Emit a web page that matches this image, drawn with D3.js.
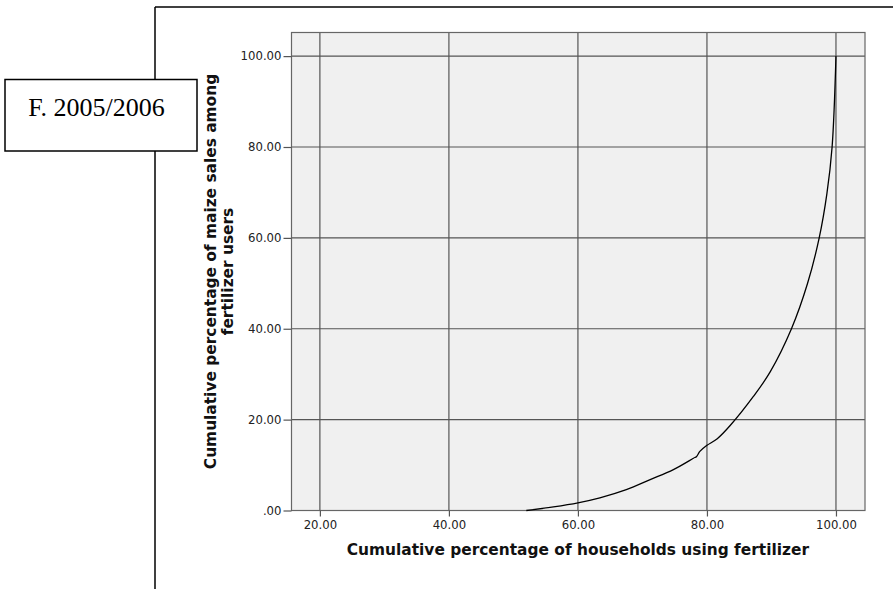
<!DOCTYPE html>
<html lang="en">
<head>
    <meta charset="UTF-8">
    <title>Cumulative maize sales</title>
    <script src="https://cdn.jsdelivr.net/npm/d3@7"></script>
    <style>
        body { margin: 0; background: #fff; }
    </style>
</head>
<body>
    <script>
        // curve points
        const householdsPct = [52.0, 56.2, 60.0, 63.4, 67.5, 71.2, 74.8, 77.9, 78.4, 78.9, 79.95, 81.6, 83.6, 87.2, 89.8, 93.1, 95.6, 97.4, 98.6, 99.4, 100];
        const salesPct = [0, 0.8, 1.7, 2.8, 4.6, 6.8, 9.0, 11.5, 11.9, 13.0, 14.3, 15.8, 18.7, 25.1, 30.5, 40, 50, 60, 69.8, 80, 100];
        const xTicks = [20, 40, 60, 80, 100];
        const yTicks = [0, 20, 40, 60, 80, 100];
        const panelLabel = "F. 2005/2006";
        const xTitle = "Cumulative percentage of households using fertilizer";
        const yTitle = ["Cumulative percentage of maize sales among", "fertilizer users"];

        const width = 893, height = 589;
        const plot = {left: 291.5, top: 32.5, right: 865, bottom: 510.5};

        const x = d3.scaleLinear().domain([15.6, 104.5]).range([plot.left, plot.right]);
        const y = d3.scaleLinear().domain([0, 105.2]).range([plot.bottom, plot.top]);

        const svg = d3.select("body").append("svg").attr("width", width).attr("height", height);

        // outer frame lines
        svg.append("line").attr("x1", 155).attr("x2", width).attr("y1", 7).attr("y2", 7)
            .attr("stroke", "#000").attr("stroke-width", 1.5);
        svg.append("line").attr("x1", 155).attr("x2", 155).attr("y1", 7).attr("y2", height)
            .attr("stroke", "#000").attr("stroke-width", 1.5);

        // plot background
        svg.append("rect").attr("x", plot.left).attr("y", plot.top)
            .attr("width", plot.right - plot.left).attr("height", plot.bottom - plot.top)
            .attr("fill", "#f0f0f0");

        // grid
        svg.append("g").selectAll("line").data(xTicks).enter().append("line")
            .attr("x1", d => x(d)).attr("x2", d => x(d))
            .attr("y1", plot.top).attr("y2", plot.bottom)
            .attr("stroke", "#555").attr("stroke-width", 1.2);
        svg.append("g").selectAll("line").data(yTicks).enter().append("line")
            .attr("x1", plot.left).attr("x2", plot.right)
            .attr("y1", d => y(d)).attr("y2", d => y(d))
            .attr("stroke", "#555").attr("stroke-width", 1.2);

        svg.append("rect").attr("x", plot.left).attr("y", plot.top)
            .attr("width", plot.right - plot.left).attr("height", plot.bottom - plot.top)
            .attr("fill", "none").attr("stroke", "#666").attr("stroke-width", 1.2);

        // axes
        const fmt = d => d === 0 ? ".00" : d.toFixed(2);
        const yAxis = svg.append("g").attr("transform", `translate(${plot.left},0)`)
            .call(d3.axisLeft(y).tickValues(yTicks).tickFormat(fmt).tickSize(8).tickPadding(2).tickSizeOuter(0));
        const xAxis = svg.append("g").attr("transform", `translate(0,${plot.bottom})`)
            .call(d3.axisBottom(x).tickValues(xTicks).tickFormat(d => d.toFixed(2)).tickSize(6).tickPadding(4).tickSizeOuter(0));
        [xAxis, yAxis].forEach(a => {
            a.select(".domain").remove();
            a.selectAll(".tick line").attr("stroke", "#555").attr("stroke-width", 1.2);
            a.selectAll("text").attr("font-family", "DejaVu Sans, sans-serif").attr("font-size", 11.7).attr("fill", "#222");
        });

        // curve
        const pts = householdsPct.map((h, i) => [h, salesPct[i]]);
        const line = d3.line().x(d => x(d[0])).y(d => y(d[1])).curve(d3.curveCatmullRom.alpha(0.5));
        svg.append("path").datum(pts).attr("d", line)
            .attr("fill", "none").attr("stroke", "#000").attr("stroke-width", 1.3);

        // axis titles
        svg.append("text").attr("x", x(60)).attr("y", 555).attr("text-anchor", "middle")
            .attr("font-family", "DejaVu Sans, sans-serif").attr("font-weight", "bold").attr("font-size", 15.4)
            .attr("fill", "#111").text(xTitle);
        const yt = svg.append("text").attr("transform", `translate(216,${(plot.top + plot.bottom) / 2}) rotate(-90)`)
            .attr("text-anchor", "middle")
            .attr("font-family", "DejaVu Sans, sans-serif").attr("font-weight", "bold").attr("font-size", 15.4)
            .attr("fill", "#111");
        yTitle.forEach((t, i) => yt.append("tspan").attr("x", 0).attr("dy", i === 0 ? 0 : 17).text(t));

        // panel label box
        svg.append("rect").attr("x", 5).attr("y", 79.5).attr("width", 192).attr("height", 71.5)
            .attr("fill", "#fff").attr("stroke", "#000").attr("stroke-width", 1.5);
        svg.append("text").attr("x", 96.5).attr("y", 115.5).attr("text-anchor", "middle")
            .attr("font-family", "Liberation Serif, Times New Roman, serif").attr("font-size", 26)
            .attr("fill", "#000").text(panelLabel);
    </script>
</body>
</html>
